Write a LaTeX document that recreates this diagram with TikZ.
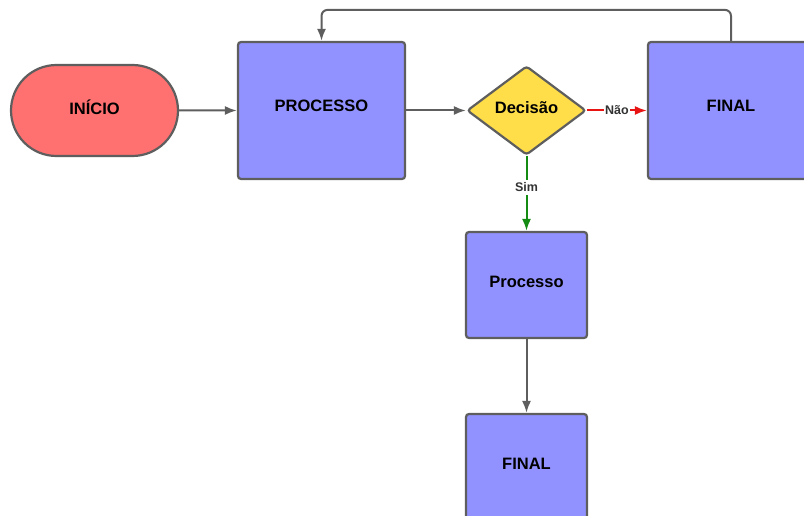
\documentclass[tikz,border=0pt]{standalone}
\usepackage{fontspec}
\setmainfont{Liberation Sans}
\usetikzlibrary{arrows.meta,positioning,shapes.geometric,shapes.misc}
\definecolor{ink}{RGB}{94,94,94}
\definecolor{startfill}{RGB}{255,112,112}
\definecolor{procfill}{RGB}{145,145,255}
\definecolor{decfill}{RGB}{255,222,74}
\definecolor{yesline}{RGB}{20,140,20}
\definecolor{noline}{RGB}{232,20,20}
\definecolor{labtext}{RGB}{51,51,51}

\begin{document}
\begin{tikzpicture}[
  x=1pt, y=-1pt,
  font=\bfseries\fontsize{16.5}{18}\selectfont, >={Latex[length=12pt,width=9pt]},
  term/.style={rounded rectangle, draw=ink, fill=startfill, line width=2.2pt, minimum width=167pt, minimum height=91pt, inner sep=0pt},
  proc/.style={draw=ink, fill=procfill, rounded corners=3pt, line width=2.2pt, align=center, inner sep=0pt},
  choice/.style={diamond, draw=ink, fill=decfill, rounded corners=3pt, line width=2.2pt, minimum width=119pt, minimum height=89pt, inner sep=0pt},
  txt/.style={inner sep=0pt},
  flow/.style={->, line width=2pt, draw=ink},
  lab/.style={font=\bfseries\fontsize{12.5}{14}\selectfont, text=labtext, fill=white, inner sep=1.5pt},
]
\useasboundingbox (0,0) rectangle (804,516);
\clip (0,0) rectangle (804,516);
% ------------------------------------------------------------------ nodes
\node[term] (inicio) at (94.5,110.5) {};
\node[txt] (inicio-t) at (94.5,107.5) {INÍCIO};
\node[proc, minimum width=167pt, minimum height=137pt] (proc1) at (321.5,110.5) {};
\node[txt] (proc1-t) at (321.5,106) {PROCESSO};
\node[choice] (dec) at (526.5,110.5) {};
\node[txt] (dec-t) at (526.5,107.5) {Decisão};
\node[proc, minimum width=166pt, minimum height=137pt] (fim1) at (731,110.5) {};
\node[txt] (fim1-t) at (731,106) {FINAL};
\node[proc, minimum width=121pt, minimum height=106pt] (proc2) at (526.5,285) {};
\node[txt] (proc2-t) at (526.5,282) {Processo};
\node[proc, minimum width=121pt, minimum height=106pt] (fim2) at (526.5,467) {};
\node[txt] (fim2-t) at (526.5,464) {FINAL};

% ------------------------------------------------------------------ connectors
\draw[flow] (inicio) -- (proc1);
\draw[flow] (proc1) -- (dec);
\draw[flow, draw=noline] (dec) -- node[lab] {Não} (fim1);
\draw[flow, draw=yesline] (dec) -- node[lab, pos=0.42, inner sep=3pt] {Sim} (proc2);
\draw[flow] (proc2) -- (fim2);

% feedback from the right FINAL back to PROCESSO
\draw[flow, rounded corners=6pt] (fim1.north) -- ++(0,-31) -| (proc1.north);
\end{tikzpicture}
\end{document}
